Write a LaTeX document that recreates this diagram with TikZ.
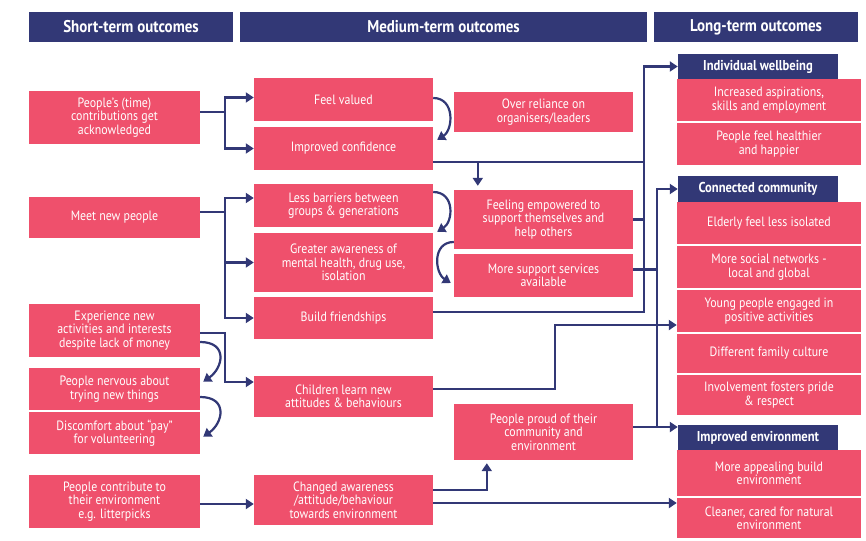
\documentclass[tikz,border=0pt]{standalone}
\usepackage{fontspec}
\setmainfont[FakeStretch=0.88]{PT Sans}
\usetikzlibrary{arrows.meta,calc}
\definecolor{pinkc}{RGB}{239,80,108}
\definecolor{navyc}{RGB}{50,56,118}
\tikzset{
  pbox/.style={fill=pinkc,text=white,align=center,inner sep=0pt,
    font=\fontsize{13.5}{13.4}\selectfont},
  hbox/.style={fill=navyc,text=white,align=center,inner sep=0pt,
    font=\fontsize{17}{19}\selectfont\bfseries},
  sbox/.style={fill=navyc,text=white,align=center,inner sep=0pt,
    font=\fontsize{14.3}{16}\selectfont\bfseries},
  link/.style={draw=navyc,line width=2.2pt},
  arr/.style={link,-{Triangle[length=8pt,width=10pt]}},
}
% box from its corners: [style]{name}{x1}{y1}{x2}{y2}{text}
\newcommand\tbox[7][pbox]{%
  \pgfmathsetmacro\bw{#5-#3}\pgfmathsetmacro\bh{#6-#4}%
  \node[#1,minimum width=\bw pt,minimum height=\bh pt] (#2)
    at ({(#3+#5)/2},{(#4+#6)/2}) {#7};}
\begin{document}
\begin{tikzpicture}[x=1pt,y=-1pt]
\useasboundingbox (0,0) rectangle (866,540);

% column headers
\tbox[hbox]{hshort}{29}{12}{233}{42}{Short-term outcomes}
\tbox[hbox]{hmed}{240}{12}{647}{42}{Medium-term outcomes}
\tbox[hbox]{hlong}{654}{12}{858}{42}{Long-term outcomes}

% short-term outcomes
\tbox{ack}{29}{91}{200}{144}{People’s (time)\\contributions get\\acknowledged}
\tbox{meet}{29}{197}{200}{238}{Meet new people}
\tbox{exper}{29}{304}{200}{357}{Experience new\\activities and interests\\despite lack of money}
\tbox{nervous}{29}{368}{200}{410}{People nervous about\\trying new things}
\tbox{discomf}{29}{412}{200}{454}{Discomfort about “pay”\\for volunteering}
\tbox{litter}{29}{475}{200}{528}{People contribute to\\their environment\\e.g. litterpicks}

% medium-term outcomes
\tbox{valued}{254}{78}{433}{121}{Feel valued}
\tbox{confid}{254}{127}{433}{170}{Improved confidence}
\tbox{barriers}{254}{184}{433}{227}{Less barriers between\\groups \& generations}
\tbox{aware}{254}{233}{433}{292}{Greater awareness of\\mental health, drug use,\\isolation}
\tbox{friends}{254}{297}{433}{339}{Build friendships}
\tbox{children}{254}{376}{433}{417}{Children learn new\\attitudes \& behaviours}
\tbox{changed}{254}{475}{433}{525}{Changed awareness\\/attitude/behaviour\\towards environment}

\tbox{reliance}{454}{92}{633}{132}{Over reliance on\\organisers/leaders}
\tbox{empower}{454}{190}{633}{249}{Feeling empowered to\\support themselves and\\help others}
\tbox{support}{454}{254}{633}{297}{More support services\\available}
\tbox{proud}{454}{404}{633}{460}{People proud of their\\community and\\environment}

% long-term outcomes
\tbox[sbox]{hwell}{678}{54}{838}{79}{Individual wellbeing}
\tbox{aspir}{677}{79}{861}{121}{Increased aspirations,\\skills and employment}
\tbox{health}{677}{123}{861}{165}{People feel healthier\\and happier}
\tbox[sbox]{hcomm}{678}{176}{838}{202}{Connected community}
\tbox{elderly}{677}{202}{861}{244}{Elderly feel less isolated}
\tbox{networks}{677}{246}{861}{288}{More social networks -\\local and global}
\tbox{young}{677}{290}{861}{332}{Young people engaged in\\positive activities}
\tbox{family}{677}{334}{861}{373}{Different family culture}
\tbox{pride}{677}{375}{861}{415}{Involvement fosters pride\\\& respect}
\tbox[sbox]{henv}{678}{425}{838}{450}{Improved environment}
\tbox{appeal}{677}{450}{861}{496}{More appealing build\\environment}
\tbox{cleaner}{677}{498}{861}{538}{Cleaner, cared for natural\\environment}

% vertical collector lines
\coordinate (busA) at (644,0);
\coordinate (busB) at (657,0);

% short-term to medium-term
\draw[link] ([yshift=5.5pt]ack.east) -- ++(25,0) coordinate (ja);
\draw[arr] (ja) |- ([yshift=2pt]valued.west);
\draw[arr] (ja) |- (confid.west);

\draw[link] ([yshift=5.5pt]meet.east) -- ++(25,0) coordinate (jm);
\draw[arr] (jm) |- ([yshift=7.5pt]barriers.west);
\draw[arr] (jm) |- (aware.west);
\draw[arr] (jm) |- (friends.west);

\draw[arr] ([yshift=-2.5pt]exper.east) -- ++(25,0) |- ([yshift=14.5pt]children.west);
\draw[arr] ([yshift=-2.5pt]litter.east) -- ([yshift=-2.5pt]litter.east -| changed.west);

% curved links within a column
\draw[arr] ([yshift=-11.5pt]exper.east) .. controls +(28,0) and +(20,-14) .. ([xshift=3pt,yshift=-14pt]nervous.north east);
\draw[arr] ([yshift=-8pt]nervous.east) .. controls +(28,0) and +(20,-14) .. ([xshift=3pt,yshift=-25pt]discomf.north east);
\draw[arr] ([yshift=1.5pt]valued.east) .. controls +(22,0) and +(16,-10) .. ([xshift=4pt,yshift=-13pt]confid.north east);
\draw[arr] ([yshift=13.5pt]barriers.east) .. controls +(22,0) and +(16,-10) .. ([xshift=4pt,yshift=1pt]aware.north east);
\draw[arr] ([yshift=-22.5pt]empower.west) .. controls +(-22,0) and +(-16,-10) .. ([xshift=-3pt,yshift=-7.5pt]support.west);

% medium-term to long-term
\draw[arr] ([yshift=6pt]friends.east) -| (busA |- hwell.west) -- (hwell.west);
\draw[link] ([yshift=-13.5pt]confid.east) coordinate (cfout) -- (cfout -| busA);
\coordinate (drop) at ([xshift=24pt,yshift=4pt]empower.north west);
\draw[arr] (cfout -| drop) -- (drop);
\draw[link] (empower.east) -- (empower.east -| busA);

\draw[link] ([yshift=6pt]support.east) -- ([yshift=6pt]support.east -| busB);
\draw[arr] ([yshift=5pt]proud.east) coordinate (prout) -- (prout -| henv.west);
\draw[arr] (prout -| busB) |- (hcomm.west);

\draw[arr] ([yshift=7.5pt]children.east) -- ++(122,0) |- ([yshift=-14pt]young.west);
\draw[arr] ([yshift=10pt]changed.east) -| ([xshift=33pt,yshift=-3pt]proud.south west);
\draw[arr] ([yshift=-3pt]changed.east) -- ([yshift=-3pt]changed.east -| cleaner.west);
\end{tikzpicture}
\end{document}
